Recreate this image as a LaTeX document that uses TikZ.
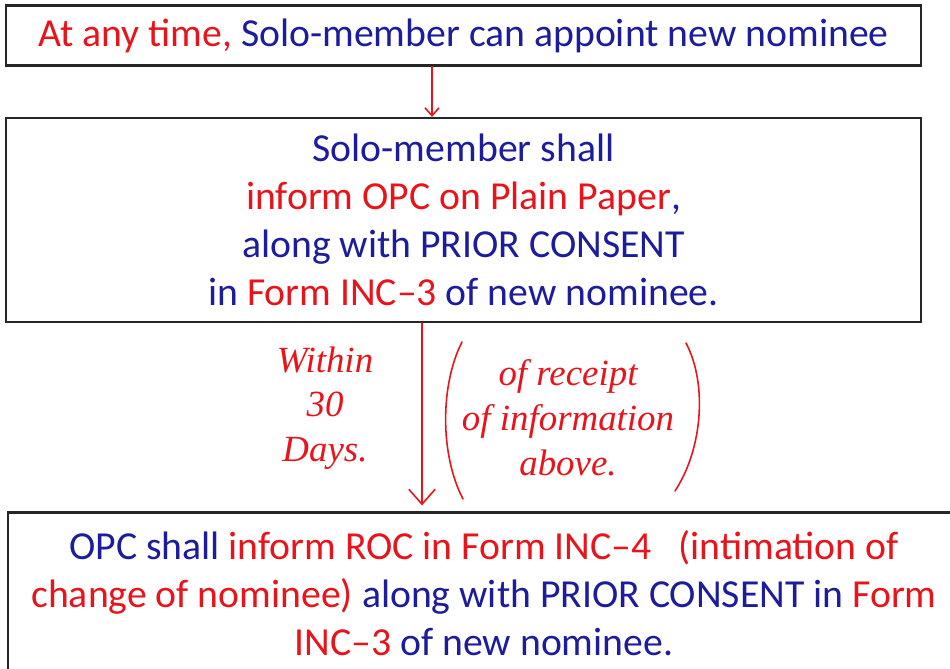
\documentclass[tikz,border=0pt]{standalone}
\usepackage{fontspec}
\setmainfont{Carlito}
\newfontfamily\handfont{Liberation Serif}
\usetikzlibrary{arrows.meta}
\definecolor{navy}{HTML}{1C1C9C}
\definecolor{inkred}{HTML}{E8141C}
\newcommand{\rd}[1]{\textcolor{inkred}{#1}}
\tikzset{
    box/.style={draw=black!85, line width=1.3pt, fill=white, inner sep=0pt,
        align=center, text=navy, font=\fontsize{22.6}{27.2}\selectfont},
    hand/.style={inkred, line width=0.9pt, line cap=round},
    handtext/.style={text=inkred, align=center, inner sep=0pt,
        font=\handfont\itshape\fontsize{21}{25.5}\selectfont},
}
\begin{document}
\begin{tikzpicture}[x=0.02cm, y=-0.02cm]
    \clip (0,0) rectangle (950,669);
    \useasboundingbox (0,0) rectangle (950,669);
    % the three steps
    \node[box, minimum width=18.3cm, minimum height=1.2cm] at (463.5,35.5) (box1)
        {\rd{At any time,} Solo-member can appoint new nominee};
    \node[box, minimum width=18.3cm, minimum height=4.08cm] at (463.5,220) (box2)
        {Solo-member shall\\ \rd{inform OPC on Plain Paper},\\ along with PRIOR CONSENT\\
         in \rd{Form INC--3} of new nominee.};
    \node[box, minimum width=19.04cm, minimum height=3.22cm] at (484,593) (box3)
        {OPC shall \rd{inform ROC in Form INC--4 \ \ (intimation of}\\
         \rd{change of nominee)} along with PRIOR CONSENT in \rd{Form}\\
         \rd{INC--3} of new nominee.};
    % arrows
    \coordinate (x1) at (432,0);
    \coordinate (x2) at (422,0);
    \draw[hand, -{Straight Barb[length=4.5pt, width=8pt]}] (box1.south -| x1) -- (box2.north -| x1);
    \draw[hand, -{Straight Barb[length=8.5pt, width=15pt]}, shorten >=0.12cm] (box2.south -| x2) -- (box3.north -| x2);
    % handwritten notes
    \node[handtext] at (325,408) (within) {Within\\ 30\\ Days.};
    \node[handtext] at (568,418) (receipt) {of receipt\\ of information\\ above.};
    \draw[hand] (462,342) .. controls (440,385) and (440,455) .. (463,499);
    \draw[hand] (686,343) .. controls (708,385) and (702,450) .. (675,491);
\end{tikzpicture}
\end{document}
